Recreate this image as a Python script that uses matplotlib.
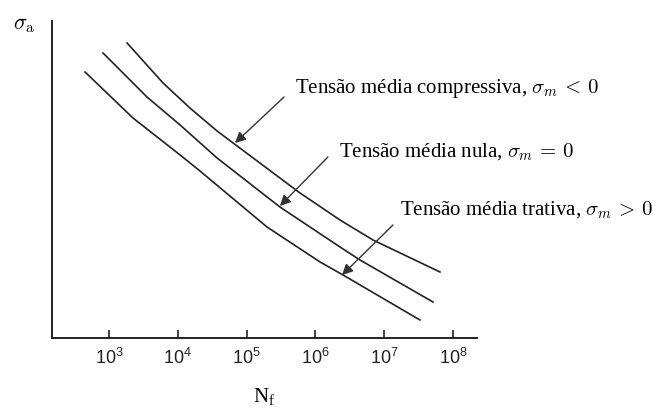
import matplotlib
matplotlib.use("Agg")
import matplotlib.pyplot as plt

plt.rcParams['mathtext.fontset'] = 'cm'

# Curves: cycles to failure N_f and stress amplitude (arbitrary units)
n_compressive = [1.83e3, 6.1e3, 1.50e4, 3.72e4, 5.97e5, 2.28e6, 6.87e6, 6.47e7]
s_compressive = [295, 255, 230, 207, 145, 118, 98, 66]

n_null = [8.18e2, 3.56e3, 1.08e4, 3.72e4, 3.05e5, 2.28e6, 4.45e6, 5.12e7]
s_null = [285, 241, 213, 180, 131, 91, 78, 36]

n_tensile = [4.48e2, 2.23e3, 1.08e4, 2.10e4, 1.98e5, 1.17e6, 2.52e6, 3.31e7]
s_tensile = [266, 220, 183, 167, 111, 76, 63, 18]

tick_values = [1e3, 1e4, 1e5, 1e6, 1e7, 1e8]
tick_labels = [r'$\mathdefault{10^{3}}$', r'$\mathdefault{10^{4}}$', r'$\mathdefault{10^{5}}$',
               r'$\mathdefault{10^{6}}$', r'$\mathdefault{10^{7}}$', r'$\mathdefault{10^{8}}$']

labels = ['Tensão média compressiva, $\\sigma_m\\, <\\, 0$',
          'Tensão média nula, $\\sigma_m\\, =\\, 0$',
          'Tensão média trativa, $\\sigma_m\\, >\\, 0$']

W, H = 657, 411
fig = plt.figure(figsize=(W / 100, H / 100), dpi=100)
ax = fig.add_axes([52 / W, (H - 338) / H, (477 - 52) / W, (338 - 21) / H])

line_kw = dict(color='#222222', lw=1.2)
ax.plot(n_compressive, s_compressive, **line_kw)
ax.plot(n_null, s_null, **line_kw)
ax.plot(n_tensile, s_tensile, **line_kw)

ax.set_xscale('log')
ax.set_xlim(10 ** 2.171, 10 ** 8.349)
ax.set_ylim(0, 317)

ax.spines['top'].set_visible(False)
ax.spines['right'].set_visible(False)
for s in ('left', 'bottom'):
    ax.spines[s].set_linewidth(1.4)
    ax.spines[s].set_color('#222222')

ax.set_xticks(tick_values)
ax.set_xticklabels(tick_labels, fontsize=13, family='Liberation Sans')
ax.xaxis.set_minor_locator(matplotlib.ticker.NullLocator())
ax.tick_params(axis='x', direction='in', length=6, width=1.2, pad=7, colors='#222222')
ax.set_yticks([])

ax.set_xlabel(r'$\mathdefault{N_f}$', fontsize=15, family='Liberation Serif', labelpad=13)

fig.text(13 / W, 1 - 25 / H, r'$\sigma_{\mathrm{a}}$', fontsize=16, va='center', ha='left')

arrow_kw = dict(arrowstyle='-|>', color='#333333', lw=1.0, mutation_scale=16,
                shrinkA=0, shrinkB=0)

# (tip, tail, text position) for each annotation
ann = [
    ((6.78e4, 195), (3.5e5, 241), (5.05e5, 250)),
    ((3.05e5, 132), (1.52e6, 181), (2.2e6, 186)),
    ((2.44e6, 63), (1.34e7, 113), (1.70e7, 128)),
]
for lab, (tip, tail, tpos) in zip(labels, ann):
    ax.annotate('', xy=tip, xytext=tail, arrowprops=arrow_kw, annotation_clip=False)
    ax.text(tpos[0], tpos[1], lab, fontsize=15, family='Liberation Serif',
            va='center', ha='left', clip_on=False)

fig.savefig('out.png', dpi=100)
